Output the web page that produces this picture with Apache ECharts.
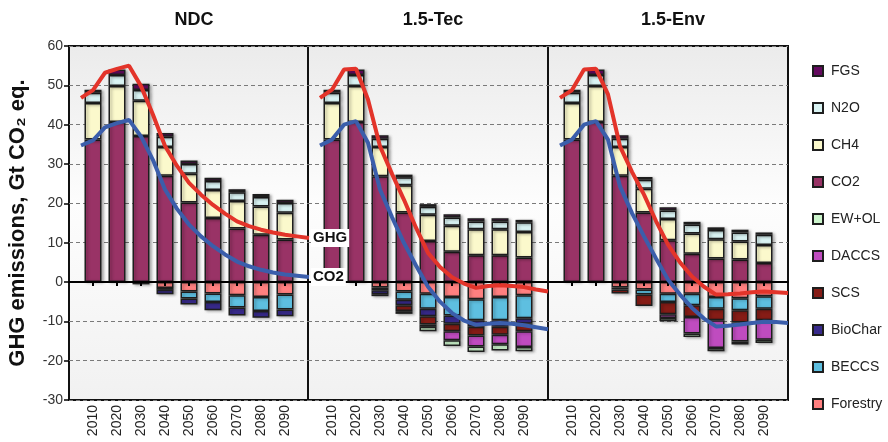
<!DOCTYPE html>
<html>
<head>
<meta charset="utf-8">
<script src="https://cdn.jsdelivr.net/npm/echarts@6.0.0/dist/echarts.min.js"></script>
<style>
  html, body { margin: 0; padding: 0; background: #fff; }
  #main { width: 888px; height: 442px; }
</style>
</head>
<body>
<div id="main"></div>
<script>
// decades for the bars, 5-year steps for the net lines
var years = [2010, 2020, 2030, 2040, 2050, 2060, 2070, 2080, 2090]
var lineYears = [2005, 2010, 2015, 2020, 2025, 2030, 2035, 2040, 2045, 2050,
  2055, 2060, 2065, 2070, 2075, 2080, 2085, 2090, 2095, 2100]
var panelTitles = ['NDC', '1.5-Tec', '1.5-Env']

// NDC
var ndcCO2 = [36.2, 40.7, 37.1, 27.0, 20.2, 16.3, 13.6, 12.0, 10.8]
var ndcCH4 = [9.3, 9.1, 9.0, 7.3, 7.3, 7.1, 7.0, 7.2, 6.8]
var ndcN2O = [2.6, 2.8, 2.7, 2.6, 2.5, 2.3, 2.2, 2.4, 2.5]
var ndcFGS = [0.8, 1.4, 1.6, 1.0, 0.9, 0.8, 0.8, 0.8, 0.8]
var ndcForestry = [0, 0, 0, -1.5, -2.4, -2.9, -3.4, -3.8, -3.2]
var ndcBECCS = [0, 0, 0, -0.5, -1.8, -2.2, -3.1, -3.6, -3.8]
var ndcBioChar = [0, 0, -0.6, -1.1, -1.5, -2.1, -2.0, -1.7, -1.7]
var ndcSCS = [0, 0, 0, 0, 0, 0, 0, 0, 0]
var ndcDACCS = [0, 0, 0, 0, 0, 0, 0, 0, 0]
var ndcEWOL = [0, 0, 0, 0, 0, 0, 0, 0, 0]
var ndcGHG = [46.8, 48.8, 53.2, 54.2, 55.0, 49.8, 42.5, 34.6, 29.5, 25.2,
  22.2, 19.6, 17.4, 15.4, 14.2, 13.3, 12.6, 12.0, 11.6, 11.2]
var ndcNetCO2 = [34.7, 36.0, 39.3, 40.4, 41.2, 37.0, 31.0, 23.5, 18.6, 14.6,
  11.6, 9.1, 7.0, 5.2, 4.0, 3.1, 2.4, 1.9, 1.6, 1.3]

// 1.5-Tec
var tecCO2 = [36.2, 40.7, 26.9, 17.7, 10.4, 7.7, 6.8, 6.8, 6.2]
var tecCH4 = [9.3, 9.1, 7.4, 6.9, 6.7, 6.6, 6.6, 6.6, 6.5]
var tecN2O = [2.6, 2.8, 2.1, 2.0, 2.0, 2.1, 2.0, 2.0, 2.5]
var tecFGS = [0.8, 1.4, 0.9, 0.7, 0.7, 0.8, 0.8, 0.8, 0.6]
var tecForestry = [0, 0, -1.4, -2.4, -3.0, -3.8, -4.4, -3.8, -3.4]
var tecBECCS = [0, 0, -0.7, -2.1, -3.8, -4.7, -5.3, -5.9, -5.8]
var tecBioChar = [0, 0, -1.0, -1.4, -1.9, -2.1, -1.7, -1.7, -1.4]
var tecSCS = [0, 0, -0.5, -1.5, -2.1, -1.9, -2.2, -2.0, -1.9]
var tecDACCS = [0, 0, 0, 0, -0.6, -2.3, -2.8, -2.4, -4.0]
var tecEWOL = [0, 0, 0, -0.7, -1.1, -1.5, -1.4, -1.6, -1.1]
var tecGHG = [46.8, 48.9, 54.0, 54.2, 46.4, 34.5, 27.5, 20.9, 13.8, 7.4,
  3.8, 1.2, -0.4, -1.5, -1.0, -0.8, -1.0, -1.3, -1.9, -2.4]
var tecNetCO2 = [34.7, 36.2, 40.0, 40.9, 35.4, 23.5, 16.5, 9.9, 4.2, -1.2,
  -5.0, -7.9, -9.8, -10.9, -10.6, -10.4, -10.6, -11.0, -11.5, -12.0]

// 1.5-Env
var envCO2 = [36.2, 40.7, 27.0, 17.7, 10.6, 7.2, 6.0, 5.7, 4.8]
var envCH4 = [9.3, 9.1, 7.3, 6.0, 5.4, 5.1, 4.9, 4.6, 4.6]
var envN2O = [2.6, 2.8, 2.1, 2.3, 2.2, 2.3, 2.3, 2.3, 2.6]
var envFGS = [0.8, 1.4, 0.9, 0.7, 0.8, 0.7, 0.7, 0.7, 0.6]
var envForestry = [0, 0, -1.4, -1.9, -3.0, -3.0, -3.8, -4.1, -3.6]
var envBECCS = [0, 0, -0.5, -1.3, -2.1, -2.9, -3.0, -3.1, -3.2]
var envBioChar = [0, 0, 0, 0, 0, 0, 0, 0, 0]
var envSCS = [0, 0, -1.0, -2.9, -3.1, -3.0, -2.9, -3.1, -2.9]
var envDACCS = [0, 0, 0, 0, -0.95, -4.2, -7.1, -4.8, -5.0]
var envEWOL = [0, 0, 0, 0, -0.85, -0.9, -0.8, -0.8, -0.8]
var envGHG = [46.8, 48.8, 54.0, 54.2, 47.7, 34.5, 28.0, 22.2, 15.5, 9.5,
  5.0, 1.4, -1.2, -3.2, -3.1, -2.9, -2.6, -2.4, -2.6, -2.8]
var envNetCO2 = [34.7, 36.2, 40.0, 40.9, 36.2, 24.3, 17.5, 11.6, 6.0, 0.6,
  -3.2, -6.6, -9.3, -11.3, -11.1, -10.8, -10.4, -10.1, -10.2, -10.4]

var legendNames = ['FGS', 'N2O', 'CH4', 'CO2', 'EW+OL', 'DACCS', 'SCS', 'BioChar', 'BECCS', 'Forestry']
var colors = {
  'FGS': '#640a5f',
  'N2O': '#d9f3f3',
  'CH4': '#fbf9cc',
  'CO2': '#993366',
  'EW+OL': '#ccf5cc',
  'DACCS': '#bf4cbf',
  'SCS': '#861c16',
  'BioChar': '#382a8c',
  'BECCS': '#5ebfe0',
  'Forestry': '#ff8080'
}

var panelBars = [
  [ndcCO2, ndcCH4, ndcN2O, ndcFGS, ndcForestry, ndcBECCS, ndcBioChar, ndcSCS, ndcDACCS, ndcEWOL],
  [tecCO2, tecCH4, tecN2O, tecFGS, tecForestry, tecBECCS, tecBioChar, tecSCS, tecDACCS, tecEWOL],
  [envCO2, envCH4, envN2O, envFGS, envForestry, envBECCS, envBioChar, envSCS, envDACCS, envEWOL]
]
var stackNames = ['CO2', 'CH4', 'N2O', 'FGS', 'Forestry', 'BECCS', 'BioChar', 'SCS', 'DACCS', 'EW+OL']
var panelLines = [[ndcGHG, ndcNetCO2], [tecGHG, tecNetCO2], [envGHG, envNetCO2]]

// shared category axis: 2000..2100 in 5-year steps, bars sit on the decades
var cats = [2000].concat(lineYears)
function isDecadeTick(idx, val) {
  var y = Number(val)
  return y % 10 === 0 && y > 2000 && y < 2100
}

var gridLeft = [69, 308, 548]
var gridTop = 46
var gridHeight = 354

var grids = [], xAxes = [], yAxes = [], titles = [], series = []

for (var g = 0; g < 3; g++) {
  grids.push({
    left: gridLeft[g], top: gridTop, width: 240, height: gridHeight,
    show: true,
    borderColor: '#111',
    borderWidth: 2,
    backgroundColor: {
      type: 'linear', x: 0, y: 0, x2: 0, y2: 1,
      colorStops: [
        { offset: 0, color: '#ebebeb' },
        { offset: 0.45, color: '#fdfdfd' },
        { offset: 1, color: '#f1f1f1' }
      ]
    }
  })
  titles.push({
    text: panelTitles[g],
    left: gridLeft[g] + 120,
    top: 6,
    textAlign: 'center',
    textStyle: { fontSize: 18, fontWeight: 'bold', color: '#111' }
  })
  // axis on zero, with ticks only
  xAxes.push({
    type: 'category', gridIndex: g, data: cats, boundaryGap: false, z: 10,
    axisLine: { onZero: true, lineStyle: { color: '#000', width: 2 } },
    axisTick: { show: true, length: 4, interval: isDecadeTick, lineStyle: { color: '#000', width: 2 } },
    axisLabel: { show: false },
    splitLine: { show: false }
  })
  // bottom axis carrying the year labels
  xAxes.push({
    type: 'category', gridIndex: g, data: cats, boundaryGap: false, position: 'bottom',
    axisLine: { show: false, onZero: false },
    axisTick: { show: false },
    axisLabel: {
      interval: isDecadeTick,
      rotate: 90, margin: 5, fontSize: 14, color: '#222'
    },
    splitLine: { show: false }
  })
  yAxes.push({
    type: 'value', gridIndex: g, min: -30, max: 60, interval: 10,
    name: g === 0 ? 'GHG emissions, Gt CO\u2082 eq.' : '',
    nameLocation: 'middle',
    nameGap: 40,
    nameTextStyle: { fontSize: 22, fontWeight: 'bold', color: '#111' },
    axisLine: { show: false },
    axisTick: { show: g === 0, length: 5, lineStyle: { color: '#000', width: 1.5 } },
    axisLabel: { show: g === 0, fontSize: 14, color: '#333', margin: 6 },
    splitLine: { show: true, lineStyle: { color: '#7a7a7a', width: 1, type: [4, 3] } }
  })

  var bars = panelBars[g]
  for (var k = 0; k < stackNames.length; k++) {
    var vals = bars[k]
    series.push({
      type: 'bar',
      name: stackNames[k],
      xAxisIndex: g * 2,
      yAxisIndex: g,
      stack: 'p' + g,
      barWidth: 17,
      itemStyle: {
        color: colors[stackNames[k]],
        borderColor: '#1e1e1e',
        borderWidth: 1.5,
        shadowColor: 'rgba(0,0,0,0.3)',
        shadowBlur: 3,
        shadowOffsetX: 2,
        shadowOffsetY: 1
      },
      data: cats.map(function (c) {
        var i = years.indexOf(c)
        return (i < 0 || vals[i] === 0) ? '-' : vals[i]
      })
    })
  }

  var lineDefs = [
    { key: 'GHG', color: '#e3342a', vals: panelLines[g][0] },
    { key: 'CO2', color: '#3b5eab', vals: panelLines[g][1] }
  ]
  lineDefs.forEach(function (d) {
    var s = {
      type: 'line',
      name: d.key + ' net ' + panelTitles[g],
      xAxisIndex: g * 2,
      yAxisIndex: g,
      showSymbol: false,
      z: 20,
      lineStyle: { color: d.color, width: 4 },
      itemStyle: { color: d.color },
      data: cats.map(function (c) {
        var i = lineYears.indexOf(c)
        return i < 0 ? '-' : d.vals[i]
      })
    }
    if (g === 0) {
      s.endLabel = {
        show: true,
        formatter: d.key,
        distance: 2,
        padding: [2, 2, 1, 2],
        backgroundColor: '#fff',
        fontSize: 15,
        fontWeight: 'bold',
        color: '#111'
      }
    }
    series.push(s)
  })
}

var chart = echarts.init(document.getElementById('main'))
chart.setOption({
  animation: false,
  textStyle: { fontFamily: "'Liberation Sans', Arial, sans-serif" },
  title: titles,
  legend: {
    data: legendNames,
    orient: 'vertical',
    left: 807,
    top: 59,
    icon: 'rect',
    itemWidth: 10,
    itemHeight: 10,
    itemGap: 23,
    itemStyle: { shadowBlur: 0, shadowOffsetX: 0, shadowOffsetY: 0 },
    textStyle: { fontSize: 14, color: '#222', lineHeight: 14, padding: [0, 0, 0, 3] }
  },
  grid: grids,
  xAxis: xAxes,
  yAxis: yAxes,
  series: series
})
</script>
</body>
</html>
